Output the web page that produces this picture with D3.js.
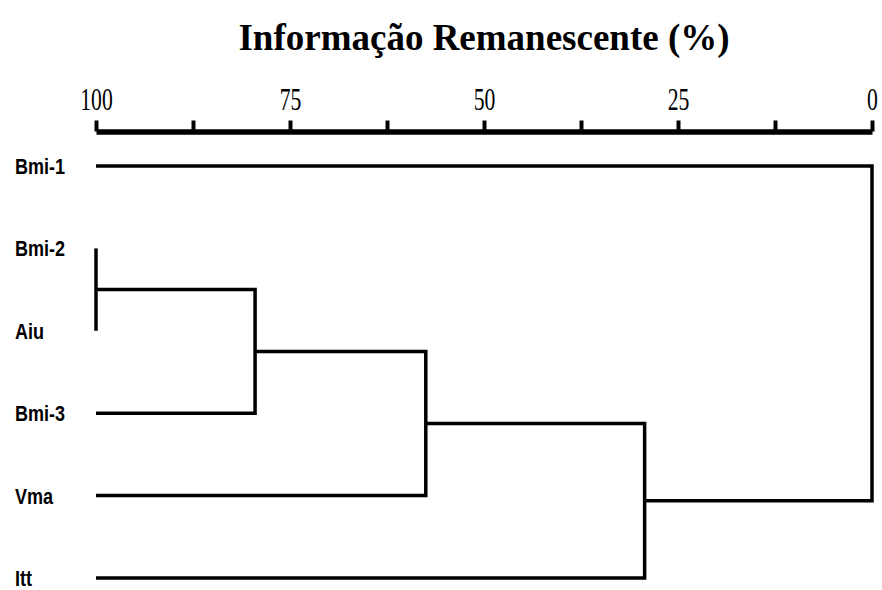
<!DOCTYPE html>
<html>
<head>
<meta charset="utf-8">
<script src="https://cdn.jsdelivr.net/npm/d3@7"></script>
<style>
  html, body { margin: 0; padding: 0; background: #fff; }
  svg { display: block; }
</style>
</head>
<body>
<script>
// ---- data ----
const titleText = "Informação Remanescente (%)";
const leaves = ["Bmi-1", "Bmi-2", "Aiu", "Bmi-3", "Vma", "Itt"];
// linkage: node ids 0..5 are leaves, merged nodes get ids 6,7,...
const mergeLeft  = [1, 6, 7, 8, 0];
const mergeRight = [2, 3, 4, 5, 9];
const mergeLevel = [100, 79.5, 57.5, 29.3, 0];
const tickValues = [100, 87.5, 75, 62.5, 50, 37.5, 25, 12.5, 0];
const tickLabels = ["100", "", "75", "", "50", "", "25", "", "0"];

// ---- layout ----
const W = 882, H = 590;
const svg = d3.select("body").append("svg").attr("width", W).attr("height", H);

const x = d3.scaleLinear().domain([100, 0]).range([96, 872]);
const y = d3.scalePoint().domain(leaves).range([166, 578]);
const axisY = 131.5;

// title
svg.append("text")
  .attr("x", 484).attr("y", 50)
  .attr("text-anchor", "middle")
  .attr("font-family", "'Liberation Serif', 'Times New Roman', serif")
  .attr("font-weight", "bold")
  .attr("font-size", 37)
  .attr("fill", "#000")
  .text(titleText);

// axis
const axis = d3.axisTop(x)
  .tickValues(tickValues)
  .tickFormat((d, i) => tickLabels[i])
  .tickSize(11)
  .tickSizeOuter(0)
  .tickPadding(11);

const gAxis = svg.append("g").attr("transform", `translate(0,${axisY})`).call(axis);
gAxis.select(".domain").attr("stroke", "#000").attr("stroke-width", 5.5);
gAxis.selectAll(".tick line").attr("stroke", "#000").attr("stroke-width", 4);
gAxis.selectAll(".tick text")
  .attr("fill", "#000")
  .attr("font-family", "'Liberation Serif', 'Times New Roman', serif")
  .attr("font-size", 31)
  .attr("dy", 0)
  .attr("transform", "scale(0.7,1)");

// leaf labels
svg.append("g").selectAll("text")
  .data(leaves)
  .join("text")
  .attr("transform", d => `translate(15,${y(d) + 8}) scale(0.82,1)`)
  .attr("font-family", "'Liberation Sans', Arial, sans-serif")
  .attr("font-weight", "bold")
  .attr("font-size", 22)
  .attr("fill", "#000")
  .text(d => d);

// compute node positions
const nodeX = [], nodeY = [];
leaves.forEach((l, i) => { nodeX[i] = x(100); nodeY[i] = y(l); });
const links = [];
mergeLeft.forEach((a, k) => {
  const b = mergeRight[k];
  const id = leaves.length + k;
  const nx = x(mergeLevel[k]);
  nodeX[id] = nx;
  nodeY[id] = (nodeY[a] + nodeY[b]) / 2;
  links.push({ x1: nodeX[a], y1: nodeY[a], x2: nodeX[b], y2: nodeY[b], nx });
});

svg.append("g").selectAll("path")
  .data(links)
  .join("path")
  .attr("d", d => `M${d.x1},${d.y1}H${d.nx}V${d.y2}H${d.x2}`)
  .attr("fill", "none")
  .attr("stroke", "#000")
  .attr("stroke-width", 3.5)
  .attr("stroke-linejoin", "miter");
</script>
</body>
</html>
